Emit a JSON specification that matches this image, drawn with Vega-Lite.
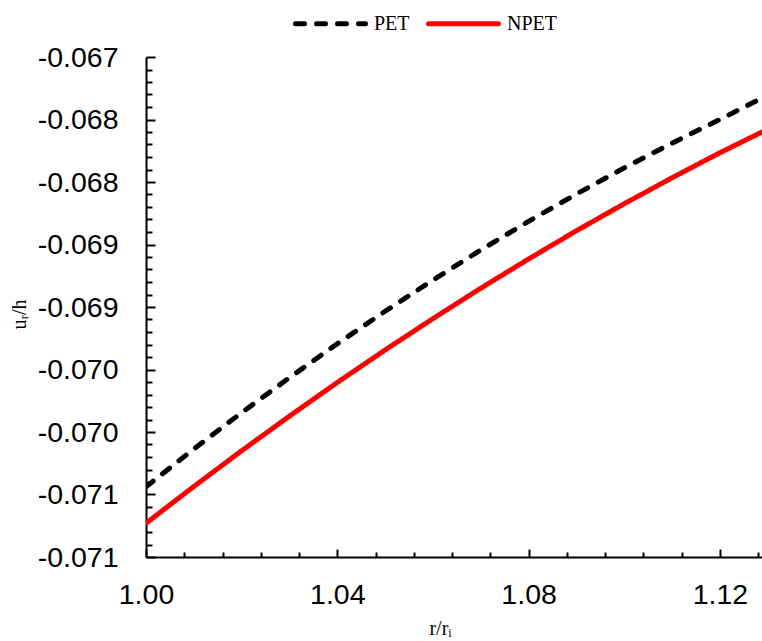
{
  "$schema": "https://vega.github.io/schema/vega-lite/v6.json",
  "width": 616,
  "height": 500,
  "autosize": {"type": "none"},
  "padding": {"left": 146, "top": 57, "right": 0, "bottom": 84},
  "background": "white",
  "config": {
    "view": {"stroke": null},
    "axis": {
      "grid": false,
      "domainColor": "black",
      "domainWidth": 2,
      "tickColor": "black",
      "tickWidth": 2,
      "labelFont": "Liberation Sans",
      "labelFontSize": 28.5,
      "labelColor": "black",
      "labelFlush": false,
      "labelOverlap": false,
      "labelBound": false,
      "titleFont": "Liberation Serif",
      "titleFontSize": 20,
      "titleFontWeight": "normal",
      "titleColor": "black"
    }
  },
  "data": {
    "values": [
      {"r": 1.00, "u": -0.070438, "series": "PET"},
      {"r": 1.01, "u": -0.070136, "series": "PET"},
      {"r": 1.02, "u": -0.069845, "series": "PET"},
      {"r": 1.03, "u": -0.069565, "series": "PET"},
      {"r": 1.04, "u": -0.069294, "series": "PET"},
      {"r": 1.05, "u": -0.069034, "series": "PET"},
      {"r": 1.06, "u": -0.068784, "series": "PET"},
      {"r": 1.07, "u": -0.068544, "series": "PET"},
      {"r": 1.08, "u": -0.068315, "series": "PET"},
      {"r": 1.09, "u": -0.068096, "series": "PET"},
      {"r": 1.10, "u": -0.067887, "series": "PET"},
      {"r": 1.11, "u": -0.067689, "series": "PET"},
      {"r": 1.12, "u": -0.067500, "series": "PET"},
      {"r": 1.1288, "u": -0.067328, "series": "PET"},
      {"r": 1.00, "u": -0.070730, "series": "NPET"},
      {"r": 1.01, "u": -0.070436, "series": "NPET"},
      {"r": 1.02, "u": -0.070150, "series": "NPET"},
      {"r": 1.03, "u": -0.069873, "series": "NPET"},
      {"r": 1.04, "u": -0.069604, "series": "NPET"},
      {"r": 1.05, "u": -0.069344, "series": "NPET"},
      {"r": 1.06, "u": -0.069093, "series": "NPET"},
      {"r": 1.07, "u": -0.068850, "series": "NPET"},
      {"r": 1.08, "u": -0.068616, "series": "NPET"},
      {"r": 1.09, "u": -0.068390, "series": "NPET"},
      {"r": 1.10, "u": -0.068174, "series": "NPET"},
      {"r": 1.11, "u": -0.067966, "series": "NPET"},
      {"r": 1.12, "u": -0.067766, "series": "NPET"},
      {"r": 1.1288, "u": -0.067600, "series": "NPET"}
    ]
  },
  "mark": {"type": "line", "strokeWidth": 5, "strokeCap": "round", "clip": true},
  "encoding": {
    "x": {
      "field": "r",
      "type": "quantitative",
      "scale": {"domain": [1, 1.1288], "nice": false, "zero": false},
      "axis": {
        "title": "r/rᵢ",
        "titleX": 294,
        "titleY": 71,
        "titleBaseline": "middle",
        "values": [1.0, 1.008, 1.016, 1.024, 1.032, 1.04, 1.048, 1.056, 1.064, 1.072, 1.08, 1.088, 1.096, 1.104, 1.112, 1.12, 1.128],
        "tickSize": {"condition": {"test": "abs(datum.value*25 - round(datum.value*25)) < 0.01", "value": -8}, "value": -5},
        "labelPadding": 31,
        "labelExpr": "abs(datum.value*25 - round(datum.value*25)) < 0.01 ? format(datum.value, '.2f') : ''"
      }
    },
    "y": {
      "field": "u",
      "type": "quantitative",
      "scale": {"domain": [-0.071, -0.067], "nice": false, "zero": false},
      "axis": {
        "title": "uᵣ/h",
        "titleX": -127,
        "titleY": 257,
        "titleAngle": -90,
        "titleAlign": "center",
        "titleBaseline": "middle",
        "values": [-0.071, -0.0709, -0.0708, -0.0707, -0.0706, -0.0705, -0.0704, -0.0703, -0.0702, -0.0701, -0.070, -0.0699, -0.0698, -0.0697, -0.0696, -0.0695, -0.0694, -0.0693, -0.0692, -0.0691, -0.069, -0.0689, -0.0688, -0.0687, -0.0686, -0.0685, -0.0684, -0.0683, -0.0682, -0.0681, -0.068, -0.0679, -0.0678, -0.0677, -0.0676, -0.0675, -0.0674, -0.0673, -0.0672, -0.0671, -0.067],
        "tickSize": {"condition": {"test": "abs(datum.value*2000 - round(datum.value*2000)) < 0.01", "value": -9}, "value": -6},
        "labelPadding": 37,
        "labelExpr": "abs(datum.value*2000 - round(datum.value*2000)) < 0.01 ? replace(format(datum.value - 0.00001, '.3f'), '−', '-') : ''"
      }
    },
    "color": {
      "field": "series",
      "type": "nominal",
      "scale": {"domain": ["PET", "NPET"], "range": ["#000000", "#FF0000"]},
      "legend": {
        "orient": "none",
        "legendX": 147,
        "legendY": -71,
        "direction": "horizontal",
        "title": null,
        "symbolType": "stroke",
        "symbolSize": 4900,
        "symbolStrokeWidth": 5,
        "labelFont": "Liberation Serif",
        "labelFontSize": 20,
        "labelColor": "black",
        "labelOffset": 6,
        "columnPadding": 8,
        "padding": 0,
        "encode": {"symbols": {"update": {"strokeCap": {"value": "round"}}}}
      }
    },
    "strokeDash": {
      "field": "series",
      "type": "nominal",
      "scale": {"domain": ["PET", "NPET"], "range": [[9, 12], [1, 0]]},
      "legend": {
        "orient": "none",
        "legendX": 147,
        "legendY": -71,
        "direction": "horizontal",
        "title": null,
        "symbolType": "stroke",
        "symbolSize": 4900,
        "symbolStrokeWidth": 5,
        "labelFont": "Liberation Serif",
        "labelFontSize": 20,
        "labelColor": "black",
        "labelOffset": 6,
        "columnPadding": 8,
        "padding": 0,
        "encode": {"symbols": {"update": {"strokeCap": {"value": "round"}}}}
      }
    }
  }
}
